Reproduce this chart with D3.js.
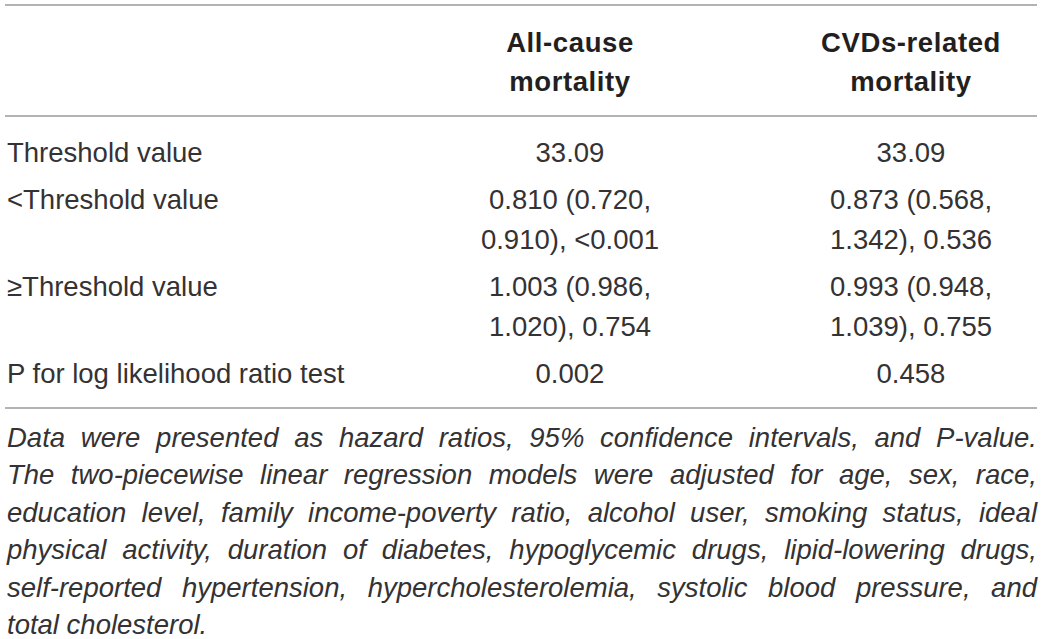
<!DOCTYPE html>
<html><head><meta charset="utf-8">
<script src="https://cdn.jsdelivr.net/npm/d3@7"></script>
<style>
html,body{margin:0;padding:0;background:#fff;}
svg{display:block;}
text{font-family:"Liberation Sans",Arial,sans-serif;fill:#343233;}
</style></head>
<body>
<script>
// ---- data ----
const columnKeys = ["label", "allCause", "cvd"];
const headerAllCause = ["All-cause", "mortality"];
const headerCvd = ["CVDs-related", "mortality"];
const rowLabels = ["Threshold value", "<Threshold value", "\u2265Threshold value", "P for log likelihood ratio test"];
const allCauseValues = [["33.09"], ["0.810 (0.720,", "0.910), <0.001"], ["1.003 (0.986,", "1.020), 0.754"], ["0.002"]];
const cvdValues = [["33.09"], ["0.873 (0.568,", "1.342), 0.536"], ["0.993 (0.948,", "1.039), 0.755"], ["0.458"]];
const footnoteLines = [
  "Data were presented as hazard ratios, 95% confidence intervals, and P-value.",
  "The two-piecewise linear regression models were adjusted for age, sex, race,",
  "education level, family income-poverty ratio, alcohol user, smoking status, ideal",
  "physical activity, duration of diabetes, hypoglycemic drugs, lipid-lowering drugs,",
  "self-reported hypertension, hypercholesterolemia, systolic blood pressure, and",
  "total cholesterol."
];

// ---- layout ----
const W = 1042, H = 639;
const left = 7, right = 1037;
const svg = d3.select("body").append("svg").attr("width", W).attr("height", H);

const x = d3.scaleOrdinal().domain(columnKeys).range([left, 570, 911]);
const anchor = d3.scaleOrdinal().domain(columnKeys).range(["start", "middle", "middle"]);

const fs = 27.5;
const lineGap = 40, rowGap = 47;

// rules
const rules = [5, 116, 408];
svg.selectAll("line.rule").data(rules).join("line")
  .attr("x1", 5).attr("x2", right).attr("y1", d => d).attr("y2", d => d)
  .attr("stroke", "#9a9a9a").attr("stroke-width", 1.5);

// header
const headerY = d3.scaleLinear().domain([0, 1]).range([52, 91]);
[["allCause", headerAllCause], ["cvd", headerCvd]].forEach(([k, lines]) => {
  svg.append("g").selectAll("text").data(lines).join("text")
    .attr("x", x(k)).attr("y", (d, i) => headerY(i))
    .attr("text-anchor", "middle").attr("font-weight", 700)
    .attr("font-size", 27.5).attr("letter-spacing", 0.6)
    .style("fill", "#231f20")
    .text(d => d);
});

// body rows baselines
const rowStart = [];
let yy = 162;
allCauseValues.forEach((v, i) => {
  rowStart.push(yy);
  yy += (v.length - 1) * lineGap + rowGap;
});

const rows = rowLabels.map((lab, i) => ({label: [lab], allCause: allCauseValues[i], cvd: cvdValues[i], y0: rowStart[i]}));
const cells = [];
rows.forEach(r => columnKeys.forEach(k => r[k].forEach((t, j) => cells.push({k, t, y: r.y0 + j * lineGap}))));

svg.append("g").selectAll("text").data(cells).join("text")
  .attr("x", d => x(d.k)).attr("y", d => d.y)
  .attr("text-anchor", d => anchor(d.k))
  .attr("font-size", fs)
  .text(d => d.t);

// footnote, justified
const footY = d3.scaleLinear().domain([0, 1]).range([447, 484.4]);
const fn = svg.append("g").selectAll("text").data(footnoteLines).join("text")
  .attr("x", left).attr("y", (d, i) => footY(i))
  .attr("font-style", "italic").attr("font-size", fs)
  .text(d => d);
fn.each(function(d, i) {
  const w = this.getComputedTextLength();
  const target = right - left;
  if (w > target) {
    d3.select(this).attr("textLength", target).attr("lengthAdjust", "spacingAndGlyphs");
    return;
  }
  if (i === footnoteLines.length - 1) return;
  const n = (d.match(/ /g) || []).length;
  d3.select(this).style("word-spacing", ((target - w) / n) + "px");
});
</script>
</body></html>
